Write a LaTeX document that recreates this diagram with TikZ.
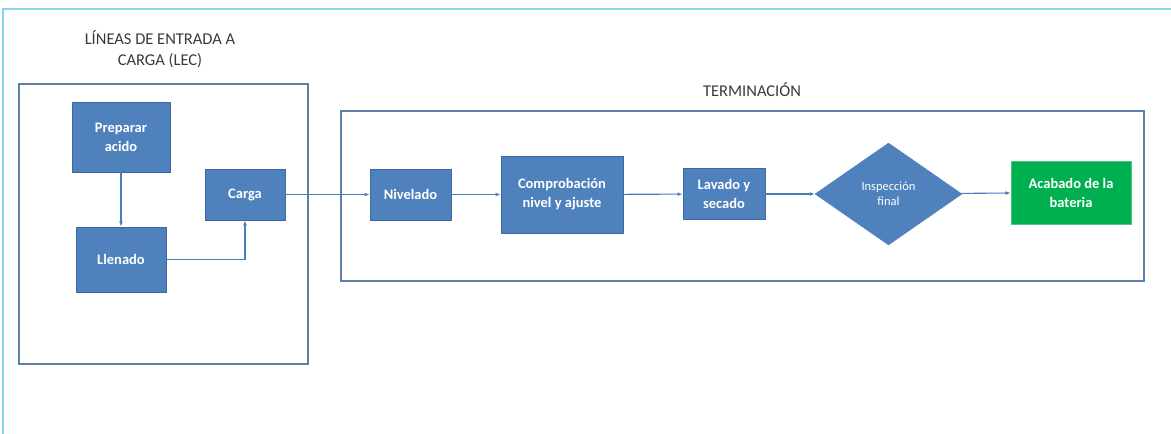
\documentclass[tikz,border=0pt]{standalone}
\usepackage{fontspec}
\setmainfont{Carlito}
\usetikzlibrary{shapes.geometric,arrows.meta}
\definecolor{boxblue}{HTML}{4F81BD}
\definecolor{boxedge}{HTML}{3C6A9E}
\definecolor{okgreen}{HTML}{00B050}
\definecolor{groupedge}{HTML}{5E7DA8}
\definecolor{framecyan}{HTML}{86D4F0}
\definecolor{linkblue}{HTML}{4A7EBB}
\definecolor{titlegrey}{HTML}{3A3A3A}
\tikzset{
  x=1pt, y=-1pt,
  stepbox/.style={draw=boxedge, line width=0.8pt, fill=boxblue, text=white,
    font=\fontsize{14.5}{19}\selectfont\bfseries, align=center, inner sep=0pt},
  donebox/.style={stepbox, draw=okgreen!70!white, fill=okgreen},
  checkdia/.style={diamond, draw=boxblue, fill=boxblue, text=white,
    font=\fontsize{12.5}{15}\selectfont, align=center, inner sep=0pt},
  groupbox/.style={draw=groupedge, line width=1.6pt},
  grouptitle/.style={text=titlegrey, font=\fontsize{16.5}{21}\selectfont, align=center},
  link/.style={draw=linkblue, line width=1.1pt, -{Latex[length=5pt,width=4pt]}},
}
\begin{document}
\begin{tikzpicture}
\useasboundingbox (0,0) rectangle (1171,434);
% open outer frame
\draw[framecyan, line width=2.5pt] (3,434) -- (3,9) -- (1171,9);

% group frames and titles
\draw[groupbox] (19,84) rectangle (308,364);
\node[grouptitle] (lectitle) at (160,49) {LÍNEAS DE ENTRADA A\\CARGA (LEC)};
\draw[groupbox] (341,111) rectangle (1144,281);
\node[grouptitle] (termtitle) at (752,90) {TERMINACIÓN};

% LEC steps
\node[stepbox, minimum width=98pt, minimum height=70pt] (prep) at (121,137) {Preparar\\acido};
\node[stepbox, minimum width=90pt, minimum height=65pt] (llen) at (121,259.5) {Llenado};
\node[stepbox, minimum width=80pt, minimum height=51pt] (carga) at (245,194.5) {Carga};

% finishing steps
\node[stepbox, minimum width=81pt, minimum height=51pt] (niv) at (410.5,194.5) {Nivelado};
\node[stepbox, minimum width=122pt, minimum height=77pt] (comp) at (562,194.5) {Comprobación\\nivel y ajuste};
\node[stepbox, minimum width=82pt, minimum height=51pt] (lav) at (724,194) {Lavado y\\secado};
\node[checkdia, minimum width=147pt, minimum height=102pt] (insp) at (888.5,194) {Inspección\\final};
\node[donebox, minimum width=120pt, minimum height=63pt] (acab) at (1071,192.5) {Acabado de la\\bateria};

% connectors
\draw[link] (prep) -- (llen);
\draw[link] (llen.east) -| (carga.south);
\draw[link] (carga) -- (niv);
\draw[link] (niv) -- (comp);
\draw[link] (comp) -- (lav);
\draw[link] (lav) -- (insp);
\draw[link] (insp) -- (acab);
\end{tikzpicture}
\end{document}
